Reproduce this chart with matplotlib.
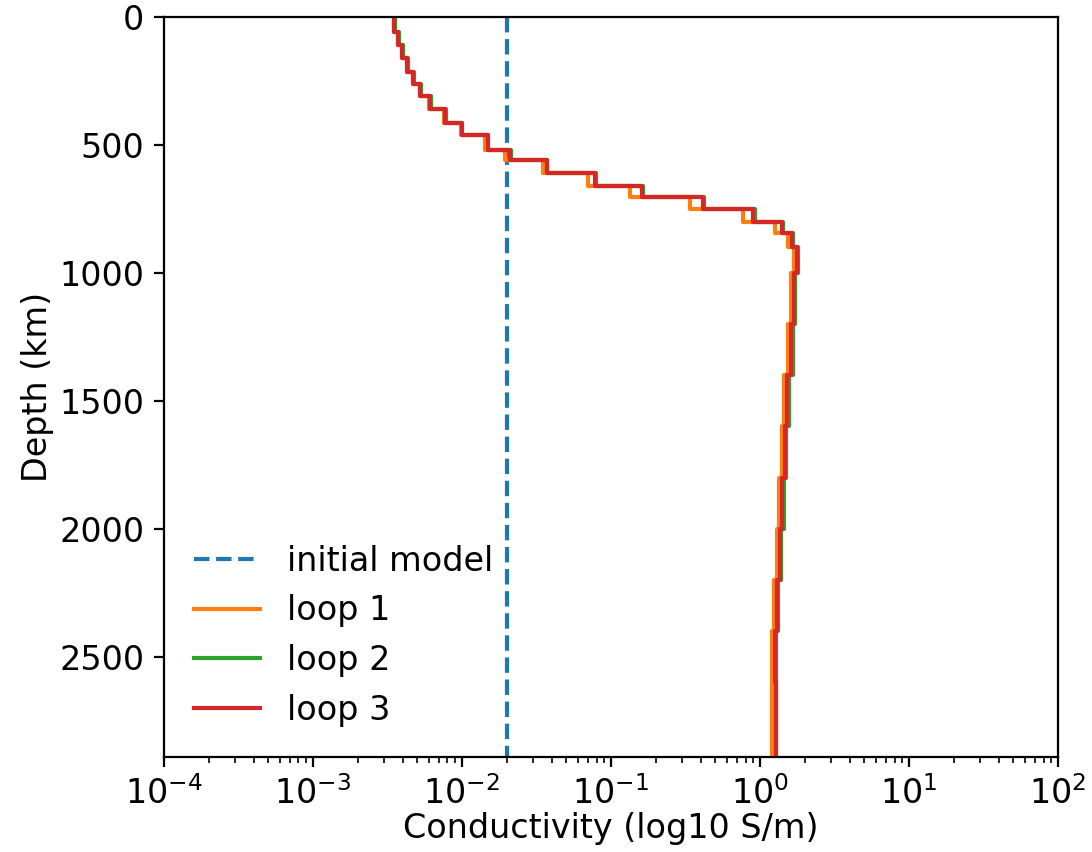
import numpy as np
import matplotlib
matplotlib.use("Agg")
import matplotlib.pyplot as plt

plt.rcParams['font.size'] = 12

# layer boundaries (km) and conductivity of each layer (S/m)
depth = [0, 60, 110, 160, 215, 260, 310, 360, 415, 460, 520, 560, 610, 660, 705,
         750, 800, 845, 900, 950, 1000, 1200, 1400, 1600, 1800, 2000, 2200, 2400,
         2600, 2890]
initial_model = 0.02
loop1 = [0.00350, 0.00372, 0.00396, 0.00427, 0.00469, 0.00523, 0.00600, 0.00757,
         0.00985, 0.01427, 0.01944, 0.0350, 0.0701, 0.1341, 0.339, 0.769, 1.261,
         1.542, 1.691, 1.691, 1.615, 1.542, 1.449, 1.405, 1.341, 1.300, 1.242,
         1.204, 1.204]
loop2 = [0.00355, 0.00378, 0.00402, 0.00434, 0.00476, 0.00531, 0.00619, 0.00781,
         0.0100, 0.01494, 0.0213, 0.0372, 0.0793, 0.1640, 0.421, 0.926, 1.427,
         1.665, 1.799, 1.799, 1.718, 1.665, 1.565, 1.494, 1.449, 1.383, 1.321,
         1.280, 1.280]
loop3 = [0.00350, 0.00372, 0.00396, 0.00427, 0.00469, 0.00523, 0.00610, 0.00769,
         0.0100, 0.01494, 0.0210, 0.0372, 0.0781, 0.1615, 0.414, 0.897, 1.405,
         1.640, 1.771, 1.771, 1.691, 1.615, 1.518, 1.472, 1.405, 1.362, 1.300,
         1.261, 1.280]


def profile(sigma):
    # step profile: each layer drawn from its top to its bottom
    y = np.repeat(depth, 2)[1:-1]
    x = np.repeat(sigma, 2)
    return x, y


fig = plt.figure(figsize=(5.46, 4.26), dpi=200)
ax = fig.add_axes([0.150, 0.112, 0.819, 0.868])

ax.plot([initial_model, initial_model], [depth[0], depth[-1]], '--', label='initial model')
x, y = profile(loop1)
ax.plot(x, y, label='loop 1')
x, y = profile(loop2)
ax.plot(x, y, label='loop 2')
x, y = profile(loop3)
ax.plot(x, y, label='loop 3')

ax.set_xscale('log')
ax.set_xlim(1e-4, 1e2)
ax.set_ylim(depth[-1], 0)
ax.set_yticks([0, 500, 1000, 1500, 2000, 2500])
ax.set_xlabel('Conductivity (log10 S/m)', labelpad=0.5)
ax.set_ylabel('Depth (km)', labelpad=2)
ax.legend(loc='lower left', frameon=False)

fig.savefig('out.png', dpi=200)
